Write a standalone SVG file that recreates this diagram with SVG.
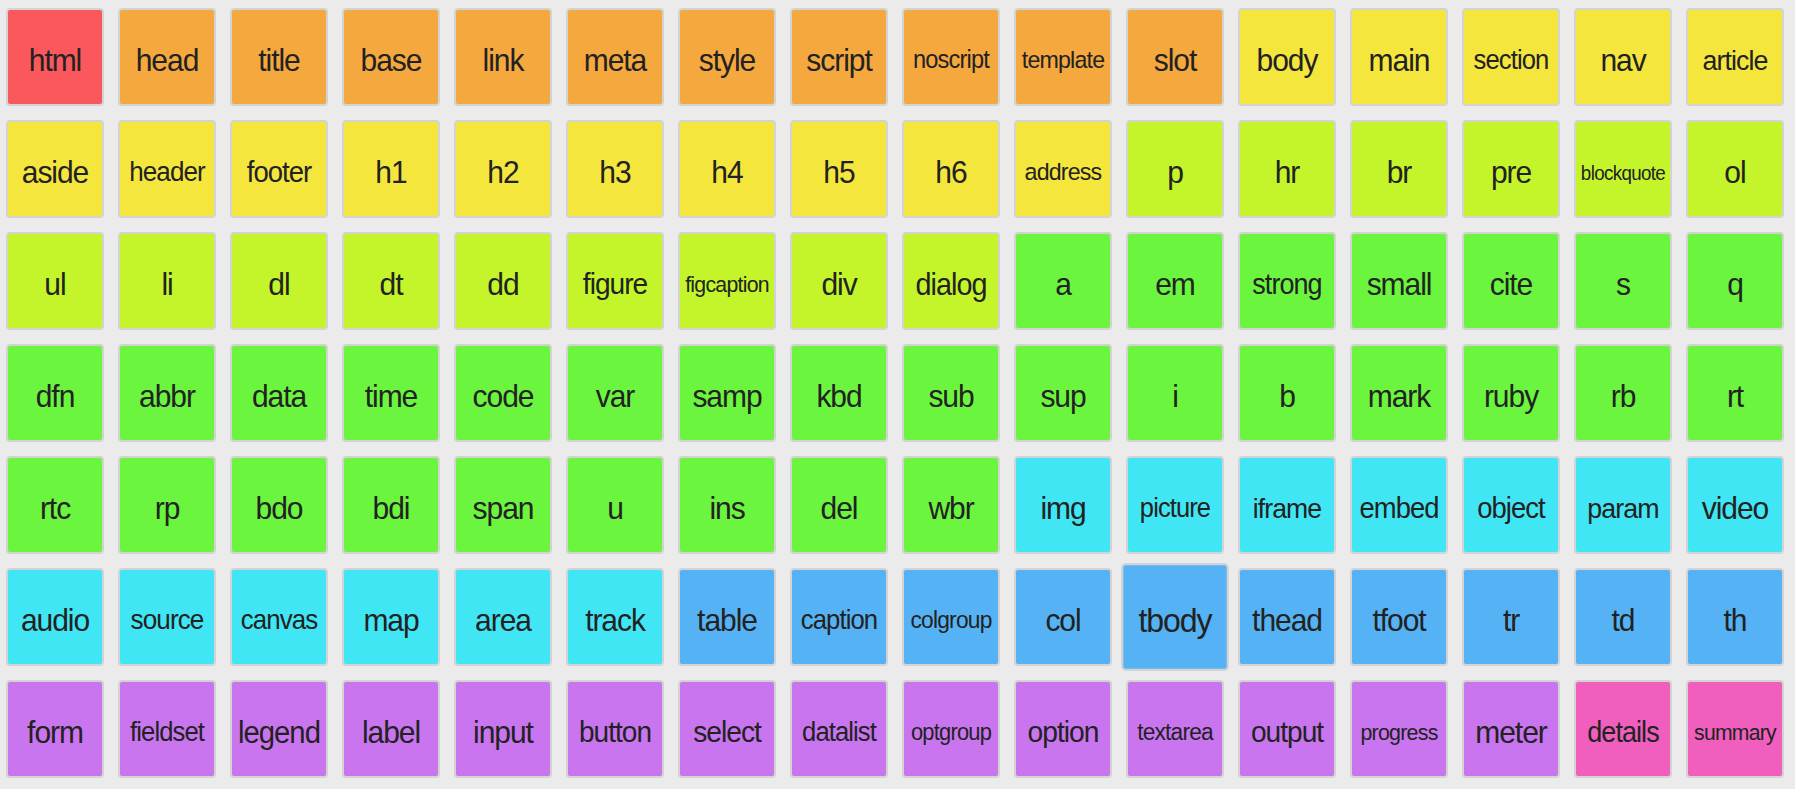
<svg xmlns="http://www.w3.org/2000/svg" width="1795" height="789" viewBox="0 0 1795 789">
<style>
rect.b{stroke:#d3d3d3;stroke-width:2;}
.red{fill:#fa585c}.ora{fill:#f5a83e}.yel{fill:#f5e63e}.lim{fill:#c3f52a}.grn{fill:#6bf53f}.cya{fill:#41e6f5}.blu{fill:#55b3f5}.pur{fill:#c975f0}.pnk{fill:#f05ebe}
text{font-family:"Liberation Sans",Arial,sans-serif;font-size:30px;letter-spacing:-0.035em;fill:#222;text-anchor:middle;}
</style>
<rect width="1795" height="789" fill="#ebebeb"/>
<g id="html"><rect class="b red" x="7" y="9" width="96" height="96" rx="3"/><text transform="translate(55 71) scale(1 1.06)">html</text></g>
<g id="head"><rect class="b ora" x="119" y="9" width="96" height="96" rx="3"/><text transform="translate(167 71) scale(1 1.06)">head</text></g>
<g id="title"><rect class="b ora" x="231" y="9" width="96" height="96" rx="3"/><text transform="translate(279 71) scale(1 1.06)">title</text></g>
<g id="base"><rect class="b ora" x="343" y="9" width="96" height="96" rx="3"/><text transform="translate(391 71) scale(1 1.06)">base</text></g>
<g id="link"><rect class="b ora" x="455" y="9" width="96" height="96" rx="3"/><text transform="translate(503 71) scale(1 1.06)">link</text></g>
<g id="meta"><rect class="b ora" x="567" y="9" width="96" height="96" rx="3"/><text transform="translate(615 71) scale(1 1.06)">meta</text></g>
<g id="style"><rect class="b ora" x="679" y="9" width="96" height="96" rx="3"/><text transform="translate(727 71) scale(1 1.06)">style</text></g>
<g id="script"><rect class="b ora" x="791" y="9" width="96" height="96" rx="3"/><text transform="translate(839 71) scale(1 1.06)">script</text></g>
<g id="noscript"><rect class="b ora" x="903" y="9" width="96" height="96" rx="3"/><text transform="translate(951 68) scale(1 1.06)" style="font-size:23.6px">noscript</text></g>
<g id="template"><rect class="b ora" x="1015" y="9" width="96" height="96" rx="3"/><text transform="translate(1063 68) scale(1 1.06)" style="font-size:23.2px">template</text></g>
<g id="slot"><rect class="b ora" x="1127" y="9" width="96" height="96" rx="3"/><text transform="translate(1175 71) scale(1 1.06)">slot</text></g>
<g id="body"><rect class="b yel" x="1239" y="9" width="96" height="96" rx="3"/><text transform="translate(1287 71) scale(1 1.06)">body</text></g>
<g id="main"><rect class="b yel" x="1351" y="9" width="96" height="96" rx="3"/><text transform="translate(1399 71) scale(1 1.06)">main</text></g>
<g id="section"><rect class="b yel" x="1463" y="9" width="96" height="96" rx="3"/><text transform="translate(1511 69) scale(1 1.06)" style="font-size:25.6px">section</text></g>
<g id="nav"><rect class="b yel" x="1575" y="9" width="96" height="96" rx="3"/><text transform="translate(1623 71) scale(1 1.06)">nav</text></g>
<g id="article"><rect class="b yel" x="1687" y="9" width="96" height="96" rx="3"/><text transform="translate(1735 69.5) scale(1 1.06)" style="font-size:26.8px">article</text></g>

<g id="aside"><rect class="b yel" x="7" y="121" width="96" height="96" rx="3"/><text transform="translate(55 183) scale(1 1.06)">aside</text></g>
<g id="header"><rect class="b yel" x="119" y="121" width="96" height="96" rx="3"/><text transform="translate(167 181) scale(1 1.06)" style="font-size:26px">header</text></g>
<g id="footer"><rect class="b yel" x="231" y="121" width="96" height="96" rx="3"/><text transform="translate(279 182) scale(1 1.06)" style="font-size:27.5px">footer</text></g>
<g id="h1"><rect class="b yel" x="343" y="121" width="96" height="96" rx="3"/><text transform="translate(391 183) scale(1 1.06)">h1</text></g>
<g id="h2"><rect class="b yel" x="455" y="121" width="96" height="96" rx="3"/><text transform="translate(503 183) scale(1 1.06)">h2</text></g>
<g id="h3"><rect class="b yel" x="567" y="121" width="96" height="96" rx="3"/><text transform="translate(615 183) scale(1 1.06)">h3</text></g>
<g id="h4"><rect class="b yel" x="679" y="121" width="96" height="96" rx="3"/><text transform="translate(727 183) scale(1 1.06)">h4</text></g>
<g id="h5"><rect class="b yel" x="791" y="121" width="96" height="96" rx="3"/><text transform="translate(839 183) scale(1 1.06)">h5</text></g>
<g id="h6"><rect class="b yel" x="903" y="121" width="96" height="96" rx="3"/><text transform="translate(951 183) scale(1 1.06)">h6</text></g>
<g id="address"><rect class="b yel" x="1015" y="121" width="96" height="96" rx="3"/><text transform="translate(1063 180) scale(1 1.06)" style="font-size:23.2px">address</text></g>
<g id="p"><rect class="b lim" x="1127" y="121" width="96" height="96" rx="3"/><text transform="translate(1175 183) scale(1 1.06)">p</text></g>
<g id="hr"><rect class="b lim" x="1239" y="121" width="96" height="96" rx="3"/><text transform="translate(1287 183) scale(1 1.06)">hr</text></g>
<g id="br"><rect class="b lim" x="1351" y="121" width="96" height="96" rx="3"/><text transform="translate(1399 183) scale(1 1.06)">br</text></g>
<g id="pre"><rect class="b lim" x="1463" y="121" width="96" height="96" rx="3"/><text transform="translate(1511 183) scale(1 1.06)">pre</text></g>
<g id="blockquote"><rect class="b lim" x="1575" y="121" width="96" height="96" rx="3"/><text transform="translate(1623 179.5) scale(1 1.06)" style="font-size:18.8px">blockquote</text></g>
<g id="ol"><rect class="b lim" x="1687" y="121" width="96" height="96" rx="3"/><text transform="translate(1735 183) scale(1 1.06)">ol</text></g>

<g id="ul"><rect class="b lim" x="7" y="233" width="96" height="96" rx="3"/><text transform="translate(55 295) scale(1 1.06)">ul</text></g>
<g id="li"><rect class="b lim" x="119" y="233" width="96" height="96" rx="3"/><text transform="translate(167 295) scale(1 1.06)">li</text></g>
<g id="dl"><rect class="b lim" x="231" y="233" width="96" height="96" rx="3"/><text transform="translate(279 295) scale(1 1.06)">dl</text></g>
<g id="dt"><rect class="b lim" x="343" y="233" width="96" height="96" rx="3"/><text transform="translate(391 295) scale(1 1.06)">dt</text></g>
<g id="dd"><rect class="b lim" x="455" y="233" width="96" height="96" rx="3"/><text transform="translate(503 295) scale(1 1.06)">dd</text></g>
<g id="figure"><rect class="b lim" x="567" y="233" width="96" height="96" rx="3"/><text transform="translate(615 294) scale(1 1.06)" style="font-size:28.1px">figure</text></g>
<g id="figcaption"><rect class="b lim" x="679" y="233" width="96" height="96" rx="3"/><text transform="translate(727 291.5) scale(1 1.06)" style="font-size:21.3px">figcaption</text></g>
<g id="div"><rect class="b lim" x="791" y="233" width="96" height="96" rx="3"/><text transform="translate(839 295) scale(1 1.06)">div</text></g>
<g id="dialog"><rect class="b lim" x="903" y="233" width="96" height="96" rx="3"/><text transform="translate(951 294.5) scale(1 1.06)" style="font-size:28.8px">dialog</text></g>
<g id="a"><rect class="b grn" x="1015" y="233" width="96" height="96" rx="3"/><text transform="translate(1063 295) scale(1 1.06)">a</text></g>
<g id="em"><rect class="b grn" x="1127" y="233" width="96" height="96" rx="3"/><text transform="translate(1175 295) scale(1 1.06)">em</text></g>
<g id="strong"><rect class="b grn" x="1239" y="233" width="96" height="96" rx="3"/><text transform="translate(1287 293.5) scale(1 1.06)" style="font-size:27px">strong</text></g>
<g id="small"><rect class="b grn" x="1351" y="233" width="96" height="96" rx="3"/><text transform="translate(1399 295) scale(1 1.06)">small</text></g>
<g id="cite"><rect class="b grn" x="1463" y="233" width="96" height="96" rx="3"/><text transform="translate(1511 295) scale(1 1.06)">cite</text></g>
<g id="s"><rect class="b grn" x="1575" y="233" width="96" height="96" rx="3"/><text transform="translate(1623 295) scale(1 1.06)">s</text></g>
<g id="q"><rect class="b grn" x="1687" y="233" width="96" height="96" rx="3"/><text transform="translate(1735 295) scale(1 1.06)">q</text></g>

<g id="dfn"><rect class="b grn" x="7" y="345" width="96" height="96" rx="3"/><text transform="translate(55 407) scale(1 1.06)">dfn</text></g>
<g id="abbr"><rect class="b grn" x="119" y="345" width="96" height="96" rx="3"/><text transform="translate(167 407) scale(1 1.06)">abbr</text></g>
<g id="data"><rect class="b grn" x="231" y="345" width="96" height="96" rx="3"/><text transform="translate(279 407) scale(1 1.06)">data</text></g>
<g id="time"><rect class="b grn" x="343" y="345" width="96" height="96" rx="3"/><text transform="translate(391 407) scale(1 1.06)">time</text></g>
<g id="code"><rect class="b grn" x="455" y="345" width="96" height="96" rx="3"/><text transform="translate(503 407) scale(1 1.06)">code</text></g>
<g id="var"><rect class="b grn" x="567" y="345" width="96" height="96" rx="3"/><text transform="translate(615 407) scale(1 1.06)">var</text></g>
<g id="samp"><rect class="b grn" x="679" y="345" width="96" height="96" rx="3"/><text transform="translate(727 407) scale(1 1.06)">samp</text></g>
<g id="kbd"><rect class="b grn" x="791" y="345" width="96" height="96" rx="3"/><text transform="translate(839 407) scale(1 1.06)">kbd</text></g>
<g id="sub"><rect class="b grn" x="903" y="345" width="96" height="96" rx="3"/><text transform="translate(951 407) scale(1 1.06)">sub</text></g>
<g id="sup"><rect class="b grn" x="1015" y="345" width="96" height="96" rx="3"/><text transform="translate(1063 407) scale(1 1.06)">sup</text></g>
<g id="i"><rect class="b grn" x="1127" y="345" width="96" height="96" rx="3"/><text transform="translate(1175 407) scale(1 1.06)">i</text></g>
<g id="b"><rect class="b grn" x="1239" y="345" width="96" height="96" rx="3"/><text transform="translate(1287 407) scale(1 1.06)">b</text></g>
<g id="mark"><rect class="b grn" x="1351" y="345" width="96" height="96" rx="3"/><text transform="translate(1399 407) scale(1 1.06)">mark</text></g>
<g id="ruby"><rect class="b grn" x="1463" y="345" width="96" height="96" rx="3"/><text transform="translate(1511 407) scale(1 1.06)">ruby</text></g>
<g id="rb"><rect class="b grn" x="1575" y="345" width="96" height="96" rx="3"/><text transform="translate(1623 407) scale(1 1.06)">rb</text></g>
<g id="rt"><rect class="b grn" x="1687" y="345" width="96" height="96" rx="3"/><text transform="translate(1735 407) scale(1 1.06)">rt</text></g>

<g id="rtc"><rect class="b grn" x="7" y="457" width="96" height="96" rx="3"/><text transform="translate(55 519) scale(1 1.06)">rtc</text></g>
<g id="rp"><rect class="b grn" x="119" y="457" width="96" height="96" rx="3"/><text transform="translate(167 519) scale(1 1.06)">rp</text></g>
<g id="bdo"><rect class="b grn" x="231" y="457" width="96" height="96" rx="3"/><text transform="translate(279 519) scale(1 1.06)">bdo</text></g>
<g id="bdi"><rect class="b grn" x="343" y="457" width="96" height="96" rx="3"/><text transform="translate(391 519) scale(1 1.06)">bdi</text></g>
<g id="span"><rect class="b grn" x="455" y="457" width="96" height="96" rx="3"/><text transform="translate(503 519) scale(1 1.06)">span</text></g>
<g id="u"><rect class="b grn" x="567" y="457" width="96" height="96" rx="3"/><text transform="translate(615 519) scale(1 1.06)">u</text></g>
<g id="ins"><rect class="b grn" x="679" y="457" width="96" height="96" rx="3"/><text transform="translate(727 519) scale(1 1.06)">ins</text></g>
<g id="del"><rect class="b grn" x="791" y="457" width="96" height="96" rx="3"/><text transform="translate(839 519) scale(1 1.06)">del</text></g>
<g id="wbr"><rect class="b grn" x="903" y="457" width="96" height="96" rx="3"/><text transform="translate(951 519) scale(1 1.06)">wbr</text></g>
<g id="img"><rect class="b cya" x="1015" y="457" width="96" height="96" rx="3"/><text transform="translate(1063 519) scale(1 1.06)">img</text></g>
<g id="picture"><rect class="b cya" x="1127" y="457" width="96" height="96" rx="3"/><text transform="translate(1175 517) scale(1 1.06)" style="font-size:25.5px">picture</text></g>
<g id="iframe"><rect class="b cya" x="1239" y="457" width="96" height="96" rx="3"/><text transform="translate(1287 517.5) scale(1 1.06)" style="font-size:26.6px">iframe</text></g>
<g id="embed"><rect class="b cya" x="1351" y="457" width="96" height="96" rx="3"/><text transform="translate(1399 518) scale(1 1.06)" style="font-size:27.4px">embed</text></g>
<g id="object"><rect class="b cya" x="1463" y="457" width="96" height="96" rx="3"/><text transform="translate(1511 518) scale(1 1.06)" style="font-size:27.5px">object</text></g>
<g id="param"><rect class="b cya" x="1575" y="457" width="96" height="96" rx="3"/><text transform="translate(1623 517.5) scale(1 1.06)" style="font-size:26.8px">param</text></g>
<g id="video"><rect class="b cya" x="1687" y="457" width="96" height="96" rx="3"/><text transform="translate(1735 519) scale(1 1.06)">video</text></g>

<g id="audio"><rect class="b cya" x="7" y="569" width="96" height="96" rx="3"/><text transform="translate(55 631) scale(1 1.06)">audio</text></g>
<g id="source"><rect class="b cya" x="119" y="569" width="96" height="96" rx="3"/><text transform="translate(167 629) scale(1 1.06)" style="font-size:26.1px">source</text></g>
<g id="canvas"><rect class="b cya" x="231" y="569" width="96" height="96" rx="3"/><text transform="translate(279 629) scale(1 1.06)" style="font-size:25.9px">canvas</text></g>
<g id="map"><rect class="b cya" x="343" y="569" width="96" height="96" rx="3"/><text transform="translate(391 631) scale(1 1.06)">map</text></g>
<g id="area"><rect class="b cya" x="455" y="569" width="96" height="96" rx="3"/><text transform="translate(503 631) scale(1 1.06)">area</text></g>
<g id="track"><rect class="b cya" x="567" y="569" width="96" height="96" rx="3"/><text transform="translate(615 631) scale(1 1.06)">track</text></g>
<g id="table"><rect class="b blu" x="679" y="569" width="96" height="96" rx="3"/><text transform="translate(727 631) scale(1 1.06)">table</text></g>
<g id="caption"><rect class="b blu" x="791" y="569" width="96" height="96" rx="3"/><text transform="translate(839 629) scale(1 1.06)" style="font-size:25.7px">caption</text></g>
<g id="colgroup"><rect class="b blu" x="903" y="569" width="96" height="96" rx="3"/><text transform="translate(951 628) scale(1 1.06)" style="font-size:22.8px">colgroup</text></g>
<g id="col"><rect class="b blu" x="1015" y="569" width="96" height="96" rx="3"/><text transform="translate(1063 631) scale(1 1.06)">col</text></g>
<g id="tbody" transform="translate(1175 617) scale(1.1) translate(-1175 -617)"><rect class="b blu" x="1127" y="569" width="96" height="96" rx="3"/><text transform="translate(1175 631) scale(1 1.06)" style="font-size:29.2px">tbody</text></g>
<g id="thead"><rect class="b blu" x="1239" y="569" width="96" height="96" rx="3"/><text transform="translate(1287 631) scale(1 1.06)">thead</text></g>
<g id="tfoot"><rect class="b blu" x="1351" y="569" width="96" height="96" rx="3"/><text transform="translate(1399 631) scale(1 1.06)">tfoot</text></g>
<g id="tr"><rect class="b blu" x="1463" y="569" width="96" height="96" rx="3"/><text transform="translate(1511 631) scale(1 1.06)">tr</text></g>
<g id="td"><rect class="b blu" x="1575" y="569" width="96" height="96" rx="3"/><text transform="translate(1623 631) scale(1 1.06)">td</text></g>
<g id="th"><rect class="b blu" x="1687" y="569" width="96" height="96" rx="3"/><text transform="translate(1735 631) scale(1 1.06)">th</text></g>

<g id="form"><rect class="b pur" x="7" y="681" width="96" height="96" rx="3"/><text transform="translate(55 743) scale(1 1.06)">form</text></g>
<g id="fieldset"><rect class="b pur" x="119" y="681" width="96" height="96" rx="3"/><text transform="translate(167 741) scale(1 1.06)" style="font-size:25.6px">fieldset</text></g>
<g id="legend"><rect class="b pur" x="231" y="681" width="96" height="96" rx="3"/><text transform="translate(279 742.5) scale(1 1.06)" style="font-size:29.3px">legend</text></g>
<g id="label"><rect class="b pur" x="343" y="681" width="96" height="96" rx="3"/><text transform="translate(391 743) scale(1 1.06)">label</text></g>
<g id="input"><rect class="b pur" x="455" y="681" width="96" height="96" rx="3"/><text transform="translate(503 743) scale(1 1.06)">input</text></g>
<g id="button"><rect class="b pur" x="567" y="681" width="96" height="96" rx="3"/><text transform="translate(615 742) scale(1 1.06)" style="font-size:28px">button</text></g>
<g id="select"><rect class="b pur" x="679" y="681" width="96" height="96" rx="3"/><text transform="translate(727 742) scale(1 1.06)" style="font-size:28.2px">select</text></g>
<g id="datalist"><rect class="b pur" x="791" y="681" width="96" height="96" rx="3"/><text transform="translate(839 741) scale(1 1.06)" style="font-size:25.6px">datalist</text></g>
<g id="optgroup"><rect class="b pur" x="903" y="681" width="96" height="96" rx="3"/><text transform="translate(951 739.5) scale(1 1.06)" style="font-size:21.9px">optgroup</text></g>
<g id="option"><rect class="b pur" x="1015" y="681" width="96" height="96" rx="3"/><text transform="translate(1063 742) scale(1 1.06)" style="font-size:28.2px">option</text></g>
<g id="textarea"><rect class="b pur" x="1127" y="681" width="96" height="96" rx="3"/><text transform="translate(1175 740) scale(1 1.06)" style="font-size:22.7px">textarea</text></g>
<g id="output"><rect class="b pur" x="1239" y="681" width="96" height="96" rx="3"/><text transform="translate(1287 742) scale(1 1.06)" style="font-size:28.1px">output</text></g>
<g id="progress"><rect class="b pur" x="1351" y="681" width="96" height="96" rx="3"/><text transform="translate(1399 739.5) scale(1 1.06)" style="font-size:21.4px">progress</text></g>
<g id="meter"><rect class="b pur" x="1463" y="681" width="96" height="96" rx="3"/><text transform="translate(1511 743) scale(1 1.06)">meter</text></g>
<g id="details"><rect class="b pnk" x="1575" y="681" width="96" height="96" rx="3"/><text transform="translate(1623 741.5) scale(1 1.06)" style="font-size:27px">details</text></g>
<g id="summary"><rect class="b pnk" x="1687" y="681" width="96" height="96" rx="3"/><text transform="translate(1735 739.5) scale(1 1.06)" style="font-size:21.2px">summary</text></g>
</svg>
